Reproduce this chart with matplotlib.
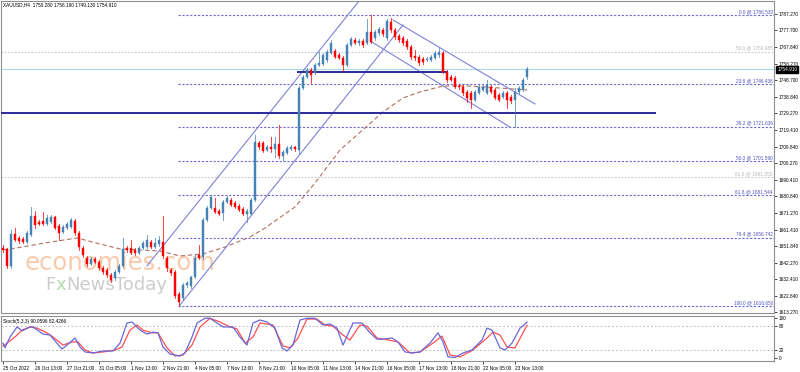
import matplotlib
matplotlib.use("Agg")
import matplotlib.pyplot as plt
from matplotlib.patches import Rectangle

# ---------------- data ----------------
opens = [1650.8,1650.2,1640.3,1658.9,1656.6,1656.0,1654.3,1658.3,1669.4,1665.9,
         1666.5,1664.8,1665.9,1668.8,1663.6,1660.1,1662.4,1663.0,1666.5,1659.5,
         1650.8,1644.9,1641.4,1644.3,1642.6,1639.1,1637.9,1635.0,1633.3,1636.8,
         1640.3,1650.8,1650.8,1649.6,1647.8,1650.8,1651.3,1654.3,1651.3,1653.1,
         1654.3,1644.9,1637.9,1636.8,1623.9,1621.6,1629.2,1628.6,1633.8,1646.7,
         1645.5,1667.1,1674.1,1674.1,1672.3,1671.2,1677.6,1678.8,1677.0,1675.3,
         1673.5,1670.6,1670.6,1678.8,1712.0,1712.0,1707.9,1709.7,1708.5,1711.4,
         1704.4,1706.2,1708.5,1709.7,1707.9,1744.1,1750.5,1754.6,1752.9,1757.5,
         1758.1,1760.4,1764.5,1765.7,1763.4,1761.6,1757.5,1769.2,1772.1,1770.4,
         1771.5,1770.4,1776.8,1773.3,1776.2,1777.9,1773.3,1782.6,1777.9,1774.4,
         1773.3,1771.5,1768.0,1762.8,1762.2,1761.0,1760.4,1760.4,1761.6,1763.4,
         1764.5,1753.4,1750.5,1749.9,1745.3,1744.7,1741.8,1741.2,1737.1,1741.2,
         1742.9,1741.2,1744.7,1742.9,1740.0,1738.8,1741.2,1738.8,1737.1,1741.8,
         1742.9,1750.28]
highs = [1652.5,1650.8,1661.3,1662.4,1657.8,1657.2,1660.7,1674.7,1672.3,1667.1,
         1671.8,1670.0,1670.0,1669.4,1664.8,1664.2,1665.9,1668.3,1667.7,1660.7,
         1651.9,1646.1,1645.5,1645.5,1643.8,1640.3,1639.1,1636.2,1637.9,1641.4,
         1656.6,1651.9,1655.4,1650.8,1651.9,1654.8,1658.3,1655.4,1656.6,1657.8,
         1669.4,1646.1,1639.1,1637.9,1625.1,1630.3,1631.5,1634.4,1646.7,1652.5,
         1668.3,1675.3,1681.7,1679.9,1673.5,1678.8,1681.1,1679.9,1678.2,1676.5,
         1674.7,1673.5,1679.9,1716.7,1713.2,1713.2,1710.9,1715.5,1715.5,1722.5,
         1707.9,1710.3,1710.9,1710.3,1745.3,1751.7,1755.8,1755.8,1758.7,1765.1,
         1764.5,1766.3,1772.1,1766.8,1764.5,1762.8,1770.4,1773.9,1773.3,1772.7,
         1772.7,1784.4,1786.53,1777.9,1779.7,1779.1,1784.4,1784.9,1779.1,1775.6,
         1774.4,1772.7,1769.2,1766.3,1763.4,1762.2,1762.2,1763.4,1765.7,1767.4,
         1765.7,1754.6,1751.7,1751.1,1746.4,1745.9,1742.9,1742.3,1742.9,1745.9,
         1745.9,1748.8,1745.9,1744.1,1741.2,1742.3,1742.3,1740.0,1744.1,1745.3,
         1749.9,1756.19]
lows = [1648.4,1639.1,1639.1,1654.8,1653.7,1653.7,1653.7,1657.8,1662.4,1664.2,
        1664.2,1664.2,1665.3,1661.8,1655.4,1659.5,1661.8,1662.4,1658.3,1649.6,
        1645.5,1640.3,1640.8,1642.0,1637.9,1635.6,1633.8,1630.9,1632.1,1636.2,
        1639.7,1648.4,1647.3,1646.7,1647.3,1650.2,1650.8,1650.8,1650.8,1651.9,
        1644.9,1637.3,1635.0,1621.6,1616.65,1620.4,1628.0,1627.4,1633.3,1644.3,
        1644.3,1666.5,1673.5,1671.2,1670.0,1667.1,1677.0,1675.3,1674.1,1672.3,
        1670.0,1665.9,1670.0,1678.2,1708.5,1706.8,1707.4,1706.8,1703.8,1703.3,
        1702.1,1705.6,1707.9,1707.4,1706.2,1743.5,1749.9,1747.0,1752.3,1756.9,
        1757.5,1759.3,1763.9,1761.6,1761.0,1753.4,1756.9,1768.6,1769.8,1769.2,
        1768.0,1769.8,1770.4,1772.1,1775.0,1774.4,1772.1,1776.8,1772.7,1770.9,
        1769.2,1766.8,1761.0,1760.4,1757.5,1758.1,1759.9,1759.9,1761.0,1762.2,
        1752.9,1747.6,1748.2,1744.1,1743.5,1740.0,1735.9,1732.4,1736.5,1740.6,
        1742.4,1740.6,1741.2,1737.7,1736.5,1738.3,1732.4,1735.4,1721.4,1741.2,
        1742.4,1749.13]
closes = [1649.6,1640.3,1658.9,1655.4,1654.8,1654.3,1659.5,1669.4,1664.2,1664.8,
          1664.8,1668.3,1668.8,1662.4,1659.5,1663.0,1664.8,1667.1,1659.5,1651.3,
          1646.7,1641.4,1644.3,1642.6,1639.1,1636.8,1635.0,1632.1,1636.8,1640.3,
          1650.2,1649.6,1647.8,1647.8,1650.8,1653.7,1655.4,1651.3,1653.7,1655.4,
          1646.1,1639.1,1636.2,1622.8,1619.3,1629.2,1630.3,1633.8,1644.9,1644.9,
          1667.1,1674.1,1680.5,1671.8,1670.6,1677.6,1679.9,1675.9,1674.7,1672.9,
          1670.6,1672.3,1678.8,1712.6,1709.7,1707.4,1709.7,1708.5,1711.4,1704.4,
          1706.8,1709.1,1709.7,1708.5,1744.1,1750.5,1754.6,1751.7,1757.5,1758.7,
          1763.4,1765.1,1770.4,1762.2,1761.6,1757.5,1769.2,1772.7,1770.4,1771.5,
          1769.2,1776.8,1770.9,1776.8,1778.5,1775.6,1783.2,1777.9,1773.9,1772.1,
          1770.4,1768.0,1762.2,1761.6,1758.7,1759.3,1761.0,1762.2,1764.5,1765.1,
          1753.4,1748.8,1748.8,1744.7,1744.7,1741.2,1738.3,1737.1,1741.8,1744.7,
          1744.7,1745.9,1741.8,1738.3,1737.1,1741.2,1737.1,1736.5,1741.8,1744.1,
          1748.8,1754.91]

ma_bars = [0, 3.5, 10.5, 18.5, 24.25, 29.25, 34.25, 39.25, 44.25, 50, 55.5, 61.75,
           65.5, 73, 78, 84.25, 88.5, 95, 100, 104.25, 110, 116, 124.25, 131]
ma_vals = [1649.6, 1650.8, 1653.7, 1656.6, 1653.1, 1650.2, 1649.6, 1649.0, 1646.1,
           1647.3, 1651.3, 1657.2, 1662.4, 1674.7, 1688.7, 1707.9, 1716.7, 1730.1,
           1738.3, 1741.8, 1745.3, 1745.3, 1744.1, 1742.9]

k_bars = [0,0.5,1.75,3.5,4.75,6.75,7.5,10,11.75,14.75,16,18,19.25,20.5,22.5,25,27.5,
          29.25,31,32.25,34.25,36,37.5,38.75,40,41.75,44.25,45.5,47.25,48.5,50.5,51.75,
          54.25,55,57.5,59.25,61,62.5,64.25,66,68,69.75,71,72.5,74.25,76,78,80,81.75,
          83.5,85,87.5,89.75,91.75,93.5,95,97.25,98.75,100.5,102.5,104.25,106.75,108.75,
          110,111.25,113,115,117.25,119.75,121,122.25,124.25,125.5,127.25,129.25,131]
k_vals = [37,25,52.5,78,68,78,78,60,57.6,22,32,50,27,14.5,12,17,17,37,88,90.6,70,60,
          65,63,27,9.4,4.3,12,52.5,88,100,100,83,78,78,52.5,32,88,95.7,90.6,75,25,17,
          32,95.7,100,100,83,85.5,75,32,88,88,63,47,47,50,40,14.5,12,14.5,37,63,40,2,
          0.5,12,19.5,45,75,70,25,19.5,37,75,90.06]
d_bars = [0,1,3,4.75,6.75,8.5,11,12.5,15,17.25,18.75,20.5,22.5,25,28,29.75,31.75,
          33.5,35,37.25,38.75,41,43,45,47.25,49.25,51.75,54.25,56.75,58.5,60.5,62.5,
          64.25,67.5,70,71.75,73.75,76,78.5,80.5,82.5,85,86.75,89.25,91,93.5,96.25,
          98.75,101.75,104.25,107.5,109.75,111.75,114.25,117.5,121,122.5,124.25,126,
          128,130,131]
d_vals = [29.7,37,52.5,70,78,75,63,52.5,32,40,40,19.5,12,14.5,19.5,27,70,83,70,63,
          63,25,4.3,7,32,78,100,90.6,78,73,37,52.5,88,83,29.7,25,50,98,98,83,80,57.6,
          45,83,80,50,45,40,12,14.5,37,55,7,2,19.5,50,65,57.6,27,25,63,82.43]

fib_labels = ["0.0 @ 1786.530", "23.6 @ 1746.436", "38.2 @ 1721.636", "50.0 @ 1701.590",
              "61.8 @ 1681.544", "76.4 @ 1656.742", "100.0 @ 1616.650"]
fib_prices = [1786.530, 1746.436, 1721.636, 1701.590, 1681.544, 1656.742, 1616.650]
gray_labels = ["50.0 @ 1764.985", "61.8 @ 1691.852"]
gray_prices = [1765.2, 1692.2]

price_ticks = [1787.270, 1777.700, 1767.840, 1758.270, 1748.700, 1738.840, 1729.270,
               1719.410, 1709.840, 1700.270, 1690.410, 1680.840, 1671.270, 1661.410,
               1651.840, 1642.270, 1632.410, 1622.840, 1613.270]
time_labels = ["25 Oct 2022", "26 Oct 13:00", "27 Oct 21:00", "31 Oct 05:00", "1 Nov 13:00",
               "2 Nov 21:00", "4 Nov 05:00", "7 Nov 13:00", "8 Nov 21:00", "10 Nov 05:00",
               "11 Nov 13:00", "14 Nov 21:00", "16 Nov 05:00", "17 Nov 13:00",
               "18 Nov 21:00", "22 Nov 05:00", "23 Nov 13:00"]
time_label_bars = [0, 8, 16, 24, 32, 40, 48, 56, 64, 72, 80, 88, 96, 104, 112, 120, 128]

support_price = 1729.5
neck_price = 1753.4
current_price = 1754.910
asc_upper = ([36.0, 89.6], [1640.3, 1796.6])
asc_lower = ([44.25, 100.0], [1617.5, 1780.9])
desc_upper = ([97.5, 133.0], [1783.8, 1734.8])
desc_lower = ([92.25, 126.75], [1770.9, 1721.3])

# ---------------- figure ----------------
plt.rcParams['font.family'] = ['Liberation Sans', 'DejaVu Sans']
W, H = 800, 372
fig = plt.figure(figsize=(W / 100, H / 100), dpi=100)
fig.patch.set_facecolor('white')

def fx(px):
    return px / W

def fy(py):
    return 1 - py / H

RIGHT = 774
ax = fig.add_axes([fx(1), fy(313), fx(RIGHT - 1), 312 / H])
ax2 = fig.add_axes([fx(1), fy(361), fx(RIGHT - 1), 45 / H])

XMIN, XMAX = -0.5, (RIGHT - 3) / 4
YLO, YHI = 1612.83, 1794.86
ax.set_xlim(XMIN, XMAX)
ax.set_ylim(YLO, YHI)
ax2.set_xlim(XMIN, XMAX)
ax2.set_ylim(-8.4, 105.8)

BULL = '#4682b4'
BEAR = '#ff0000'
FIBC = '#6b6bd0'
fs = 3.4

# level lines
for p in gray_prices:
    ax.axhline(p, color='#c8c8c8', lw=0.8, ls=(0, (1.5, 1.5)), zorder=1)
for p, lab in zip(gray_prices, gray_labels):
    ax.text(XMAX - 0.3, p + 0.6, lab, color='#b8b8b8', fontsize=fs, ha='right', va='bottom', zorder=5)
for p, lab in zip(fib_prices, fib_labels):
    ax.plot([43.75, XMAX], [p, p], color=FIBC, lw=0.8, ls=(0, (2, 1.5)), zorder=1)
    ax.text(XMAX - 0.3, p + 0.6, lab, color='#5050c0', fontsize=fs, ha='right', va='bottom', zorder=5)

ax.axhline(current_price, color='#a8dde8', lw=0.8, zorder=1)
ax.plot([XMIN, 163], [support_price, support_price], color='#2a2a9a', lw=1.4, zorder=4)
ax.plot([73.75, 111], [neck_price, neck_price], color='#2a2a9a', lw=1.4, zorder=4)

# watermark
ax.text(5.5, 1637.9, 'economies.com', fontsize=17.5, color='#f6b98f', alpha=0.75,
        family='DejaVu Sans', ha='left', va='baseline', zorder=2)
t1 = ax.text(10.5, 1626.3, 'F', fontsize=13, color='#c4c4c4', alpha=0.85,
             family='DejaVu Sans', ha='left', va='baseline', zorder=2)
t2 = ax.annotate('x', xy=(1, 0), xycoords=t1, fontsize=13, color='#a9d6a2', alpha=0.85,
                 family='DejaVu Sans', ha='left', va='bottom', zorder=2)
ax.annotate('NewsToday', xy=(1, 0), xycoords=t2, fontsize=13, color='#c4c4c4', alpha=0.85,
            family='DejaVu Sans', ha='left', va='bottom', zorder=2)

# moving average
ax.plot(ma_bars, ma_vals, color='#b07060', lw=0.8, ls=(0, (4, 2.5)), zorder=3)

# channels
for xs, ys in (asc_upper, asc_lower, desc_upper, desc_lower):
    ax.plot(xs, ys, color='#8080d8', lw=0.8, zorder=3)

# candles
for i, (o, h, l, c) in enumerate(zip(opens, highs, lows, closes)):
    col = BULL if c >= o else BEAR
    ax.plot([i, i], [l, h], color=col, lw=0.7, alpha=0.75, zorder=6)
    lo, hi = min(o, c), max(o, c)
    ax.add_patch(Rectangle((i - 0.36, lo), 0.72, max(hi - lo, 0.4), facecolor=col,
                           edgecolor=col, lw=0.3, zorder=7))

# price axis
ax.yaxis.tick_right()
ax.set_yticks(price_ticks)
ax.set_yticklabels([f"{t:.3f}" for t in price_ticks])
ax.tick_params(axis='y', labelsize=fs, length=2, width=0.5, pad=1.5, colors='black')
ax.set_xticks([])
for s in ax.spines.values():
    s.set_color('#909090')
    s.set_linewidth(0.8)

# current price box
ax.text(1.004, (current_price - YLO) / (YHI - YLO), f"{current_price:.3f}",
        transform=ax.transAxes, fontsize=fs, color='white', ha='left', va='center',
        bbox=dict(boxstyle='square,pad=0.25', fc='black', ec='black'), zorder=10, clip_on=False)

ax.text(0.003, 0.995, 'XAUUSD,H4  1750.280 1756.190 1749.130 1754.910', transform=ax.transAxes,
        fontsize=fs, color='black', ha='left', va='top')

# stochastic panel
ax2.axhline(80, color='#c0c0c0', lw=0.7, ls=(0, (2, 2)))
ax2.axhline(20, color='#c0c0c0', lw=0.7, ls=(0, (2, 2)))
ax2.plot(d_bars, d_vals, color='#ff5050', lw=0.9, zorder=3)
ax2.plot(k_bars, k_vals, color='#6868d8', lw=0.9, zorder=4)
ax2.text(0.003, 0.93, 'Stoch(5,3,3) 90.0596 82.4266', transform=ax2.transAxes,
         fontsize=fs, color='black', ha='left', va='top')
ax2.yaxis.tick_right()
ax2.set_yticks([100, 80, 20, 0])
ax2.set_yticklabels(['100', '80', '20', '0'])
ax2.tick_params(axis='y', labelsize=fs, length=2, width=0.5, pad=1.5)
ax2.set_xticks(time_label_bars)
ax2.set_xticklabels(time_labels, ha='left')
ax2.tick_params(axis='x', labelsize=fs, length=2, width=0.5, pad=1.5)
for s in ax2.spines.values():
    s.set_color('#909090')
    s.set_linewidth(0.8)

fig.savefig('out.png', dpi=100, facecolor='white')
